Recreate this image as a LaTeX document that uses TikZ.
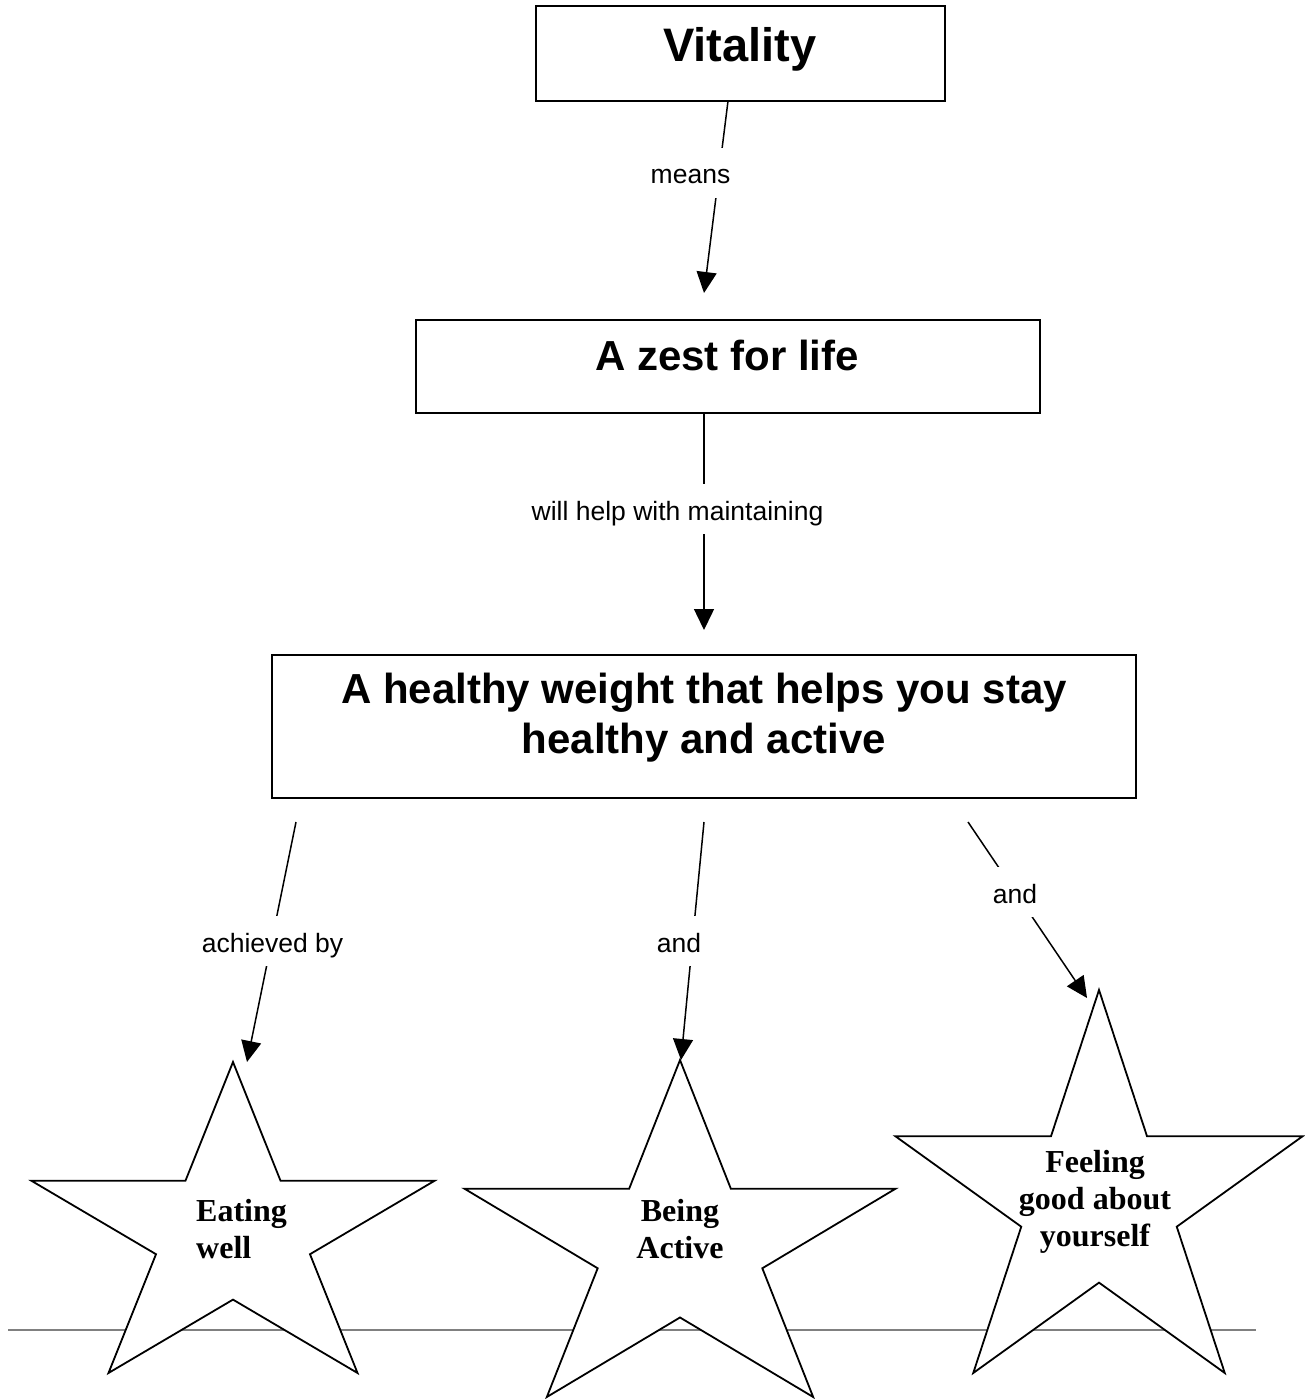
\documentclass[tikz,border=0pt]{standalone}
\usepackage{fontspec}
\setmainfont{Liberation Serif}
\setsansfont{Liberation Sans}
\usetikzlibrary{arrows.meta}
\begin{document}
\begin{tikzpicture}[x=1pt,y=-1pt,
  box/.style={draw, line width=1.8pt, inner sep=0pt},
  title/.style={font=\sffamily\bfseries\fontsize{42}{50}\selectfont, align=center, inner sep=0pt},
  bigtitle/.style={font=\sffamily\bfseries\fontsize{47}{54}\selectfont, inner sep=0pt},
  lab/.style={font=\sffamily\fontsize{26.5}{30}\selectfont, fill=white, inner xsep=2pt, inner ysep=8pt, text height=28pt, text depth=6pt, anchor=base},
  conn/.style={line width=1.5pt, -{Triangle[length=21pt,width=20pt]}},
  startext/.style={font=\rmfamily\bfseries\fontsize{32}{37}\selectfont, inner sep=0pt},
  starline/.style={draw, fill=white, line width=1.8pt, line join=miter}]
\useasboundingbox[fill=white] (0,0) rectangle (1304,1399);

% page rule
\coordinate (r1) at (8,1330);
\coordinate (r2) at (1256,1330);
\draw[gray, line width=1.2pt] (r1) -- (r2);

% stars
\newcommand\drawmystar[4]{%
  \begin{scope}[shift={(#1,#2)}, xscale=#3, yscale=#4]
    \path[starline] (0,0) -- (0.236,0.382) -- (1,0.382) -- (0.382,0.618) -- (0.618,1)
      -- (0,0.764) -- (-0.618,1) -- (-0.382,0.618) -- (-1,0.382) -- (-0.236,0.382) -- cycle;
  \end{scope}}
\drawmystar{233}{1062}{201.5}{311}
\drawmystar{680}{1060}{215.5}{337}
\drawmystar{1099}{990}{203.5}{383}

\node[startext, align=left, anchor=west] (eat) at (196,1229.5) {Eating\\well};
\node[startext, align=center] (act) at (680,1229) {Being\\Active};
\node[startext, align=center] (feel) at (1095,1202.3) {Feeling\\good about\\yourself};

% boxes
\node[box, minimum width=409pt, minimum height=95pt] (vit) at (740.5,53.5) {};
\node[bigtitle, anchor=base] (vitT) at (740,62) {Vitality};
\node[box, minimum width=624pt, minimum height=93pt] (zest) at (728,366.5) {};
\node[title, anchor=base] (zestT) at (727,370) {A zest for life};
\node[box, minimum width=864pt, minimum height=143pt] (hw) at (704,726.5) {};
\node[title] (hwT) at (704,717.5) {A healthy weight that helps you stay\\healthy and active};

% connector end points
\coordinate (c1s) at (728,101);
\coordinate (c1e) at (704,293);
\coordinate (c2s) at (704,413);
\coordinate (c2e) at (704,630);
\coordinate (c3s) at (296,822);
\coordinate (c3e) at (247,1062);
\coordinate (c4s) at (704,822);
\coordinate (c4e) at (681,1060);
\coordinate (c5s) at (968,822);
\coordinate (c5e) at (1087,998);

\draw[conn] (c1s) -- (c1e);
\draw[conn] (c2s) -- (c2e);
\draw[conn] (c3s) -- (c3e);
\draw[conn] (c4s) -- (c4e);
\draw[conn] (c5s) -- (c5e);

% labels
\node[lab] (l1) at (690.5,184) {means};
\node[lab] (l2) at (677.5,520) {will help with maintaining};
\node[lab] (l3) at (272.5,952) {achieved by};
\node[lab] (l4) at (679,952) {and};
\node[lab] (l5) at (1015,903) {and};
\end{tikzpicture}
\end{document}
